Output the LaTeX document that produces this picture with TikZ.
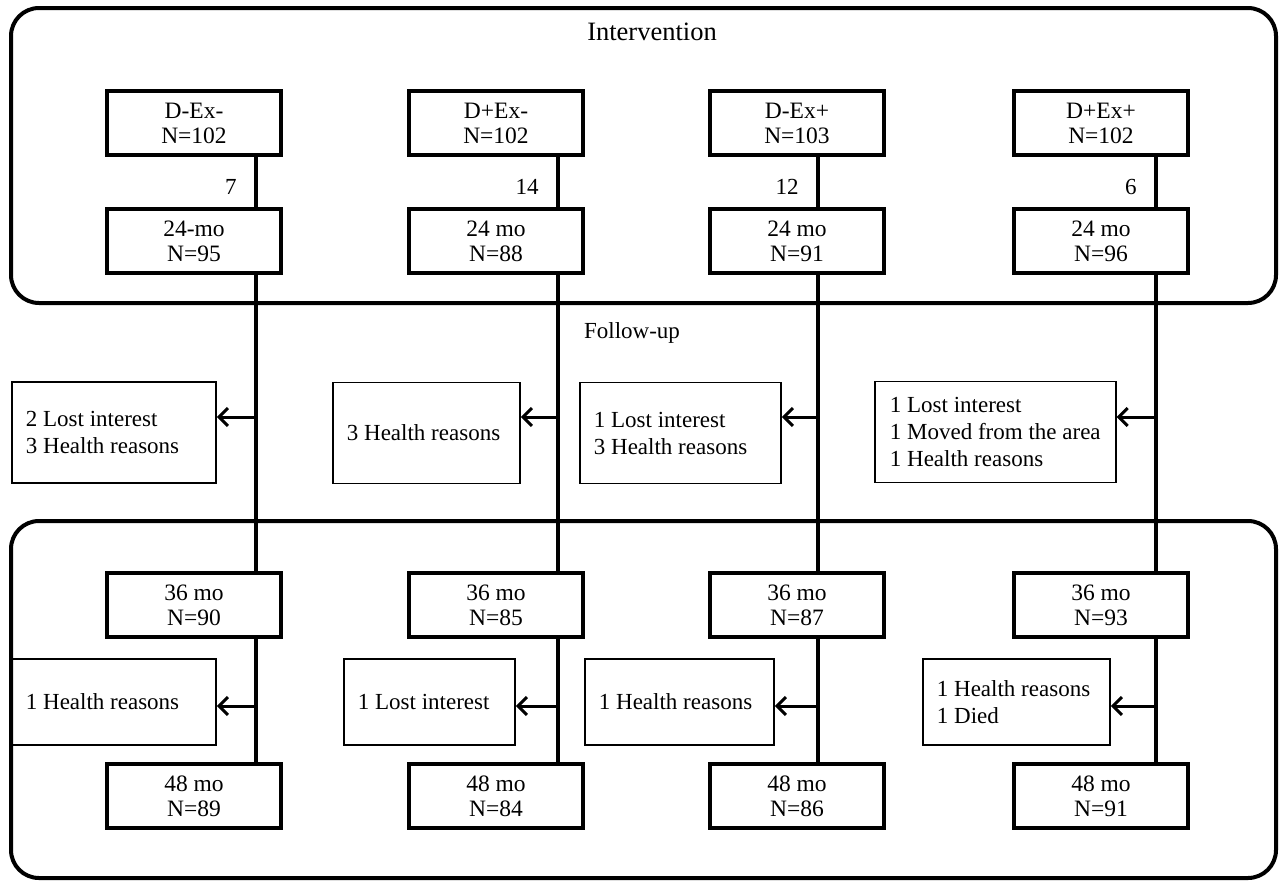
\documentclass[tikz,border=0pt]{standalone}
\usepackage{fontspec}
\setmainfont{Liberation Serif}
\usetikzlibrary{arrows.meta}
\tikzset{
  group/.style={draw,line width=4pt,fill=white,minimum width=174pt,minimum height=64pt,align=center,inner sep=0pt,font=\fontsize{23.5}{25}\selectfont},
  reason/.style={draw,line width=1.8pt,anchor=west,align=flush left,inner xsep=14pt,inner ysep=0pt},
  spine/.style={line width=4pt},
  arrow/.style={line width=3pt,-{Straight Barb[length=9pt,width=18pt]}},
  panel/.style={line width=4pt,rounded corners=28pt}
}

\begin{document}
\begin{tikzpicture}[x=1pt,y=-1pt,font=\fontsize{23}{27}\selectfont]
\useasboundingbox (0,0) rectangle (1280,881);
% the two phases
\draw[panel] (11,8) rectangle (1276,303);
\draw[panel] (11,521) rectangle (1276,878);
\node[font=\fontsize{26.5}{30}\selectfont] (intv) at (652,32) {Intervention};
\node (fup) at (632,333) {Follow-up};

% one column per group
\foreach \i/\cx/\sx/\grp/\na/\mo/\nb/\nc/\nd/\lost in {
  1/194/256/D-Ex-/102/24-mo/95/90/89/7,
  2/496/558/D+Ex-/102/24 mo/88/85/84/14,
  3/797/818/D-Ex+/103/24 mo/91/87/86/12,
  4/1101/1156/D+Ex+/102/24 mo/96/93/91/6}{
  \coordinate (s\i) at (\sx,0);
  \node[group] (g\i) at (\cx,123) {\grp\\N=\na};
  \node[group] (a\i) at (\cx,241) {\mo\\N=\nb};
  \node[group] (b\i) at (\cx,605) {36 mo\\N=\nc};
  \node[group] (c\i) at (\cx,796) {48 mo\\N=\nd};
  \draw[spine] (g\i.south -| s\i) -- node[left=14pt,pos=0.6] {\lost} (a\i.north -| s\i);
  \draw[spine] (a\i.south -| s\i) -- (b\i.north -| s\i);
  \draw[spine] (b\i.south -| s\i) -- (c\i.north -| s\i);
  \coordinate (p\i) at (\sx,417);
  \coordinate (q\i) at (\sx,706);
}

% drop-outs 24 -> 36 mo
\node[reason,text width=176pt,minimum height=101pt] (r1) at (11,432.5) {2 Lost interest\\3 Health reasons};
\node[reason,text width=159pt,minimum height=101pt] (r2) at (332,433) {3 Health reasons};
\node[reason,text width=173pt,minimum height=101pt] (r3) at (579,433) {1 Lost interest\\3 Health reasons};
\node[reason,inner xsep=15pt,minimum height=101pt] (r4) at (874,432) {1 Lost interest\\1 Moved from the area\\1 Health reasons};
% drop-outs 36 -> 48 mo
\node[reason,text width=176pt,minimum height=86pt] (r5) at (11,702) {1 Health reasons};
\node[reason,text width=143pt,minimum height=86pt] (r6) at (343,702) {1 Lost interest};
\node[reason,text width=161pt,minimum height=86pt] (r7) at (584,702) {1 Health reasons};
\node[reason,text width=159pt,minimum height=86pt] (r8) at (922,702) {1 Health reasons\\1 Died};

\foreach \i in {1,2,3,4}{
  \pgfmathtruncatemacro{\j}{\i+4}
  \draw[arrow] (p\i) -- (p\i -| r\i.east);
  \draw[arrow] (q\i) -- (q\i -| r\j.east);
}
\end{tikzpicture}
\end{document}
